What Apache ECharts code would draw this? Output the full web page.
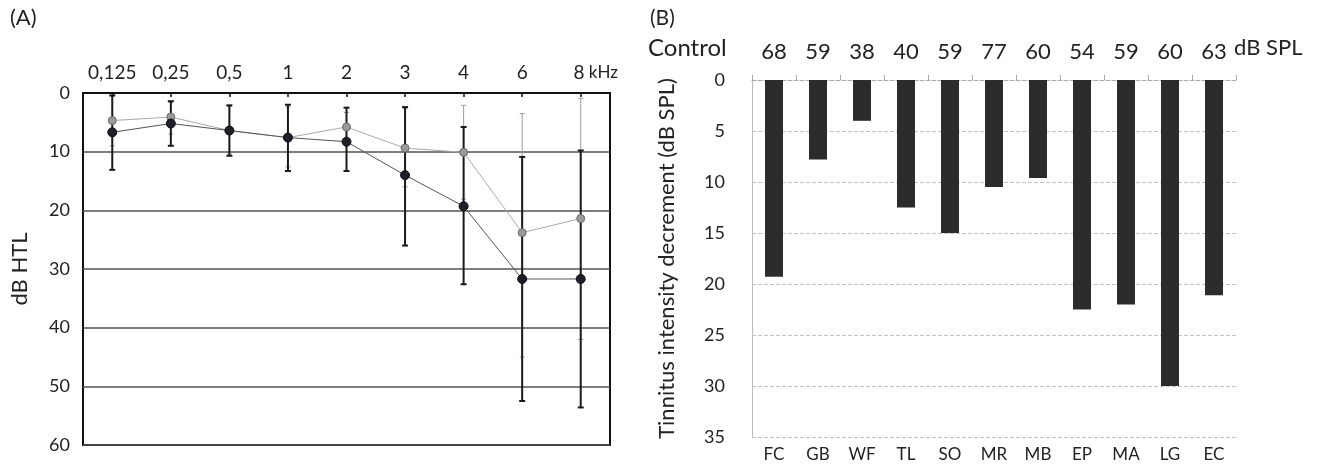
<!DOCTYPE html>
<html>
<head>
<meta charset="utf-8">
<script src="https://cdn.jsdelivr.net/npm/echarts@6/dist/echarts.min.js"></script>
<style>
html,body{margin:0;padding:0;background:#fff;}
#chart{width:1317px;height:466px;}
</style>
</head>
<body>
<div id="chart"></div>
<script>
// ---- Panel A: audiogram ----
var freqLabels = ['0,125','0,25','0,5','1','2','3','4','6','8'];
var meanBlack = [6.7, 5.2, 6.4, 7.6, 8.3, 14.0, 19.3, 31.7, 31.7];
var meanGray  = [4.7, 4.1, 6.4, 7.6, 5.8, 9.4, 10.1, 23.8, 21.4];
var errTopBlack = [0.4, 1.4, 2.1, 2.0, 2.5, 2.4, 5.8, 10.9, 9.8];
var errBotBlack = [13.1, 9.0, 10.7, 13.3, 13.3, 26.0, 32.6, 52.5, 53.6];
var errTopGray  = [0.6, 1.6, 2.3, 2.4, 3.3, 2.7, 2.1, 3.5, 0.9];
var errBotGray  = [9.0, 7.0, 10.4, 12.6, 8.5, 16.0, 18.1, 45.0, 42.0];

// ---- Panel B: tinnitus decrement ----
var subjects = ['FC','GB','WF','TL','SO','MR','MB','EP','MA','LG','EC'];
var controlSPL = [68, 59, 38, 40, 59, 77, 60, 54, 59, 60, 63];
var decrement = [19.3, 7.8, 4.0, 12.5, 15.0, 10.5, 9.6, 22.5, 22.0, 30.0, 21.1];

var FONT = 'Lato, "Open Sans", sans-serif';
var TXT = '#222';

function errData(top, bot) {
  return top.map(function (t, i) { return [i, t, bot[i]]; });
}
function errRender(color, width, cap) {
  return function (params, api) {
    var x = api.value(0);
    var p1 = api.coord([x, api.value(1)]);
    var p2 = api.coord([x, api.value(2)]);
    var st = { stroke: color, lineWidth: width };
    return {
      type: 'group',
      children: [
        { type: 'line', shape: { x1: p1[0], y1: p1[1], x2: p2[0], y2: p2[1] }, style: st },
        { type: 'line', shape: { x1: p1[0] - cap, y1: p1[1], x2: p1[0] + cap, y2: p1[1] }, style: st },
        { type: 'line', shape: { x1: p2[0] - cap, y1: p2[1], x2: p2[0] + cap, y2: p2[1] }, style: st }
      ]
    };
  };
}

var chart = echarts.init(document.getElementById('chart'), null, { renderer: 'canvas' });
var option = {
  animation: false,
  backgroundColor: '#fff',
  textStyle: { fontFamily: FONT, color: TXT },
  graphic: [
    { type: 'text', left: 10, top: 7, style: { text: '(A)', fontSize: 22, fontFamily: FONT, fill: TXT } },
    { type: 'text', left: 650, top: 8, style: { text: '(B)', fontSize: 21, fontFamily: FONT, fill: TXT } },
    { type: 'text', left: 648, top: 36, style: { text: 'Control', fontSize: 24, fontFamily: FONT, fill: TXT } },
    { type: 'text', left: 1234, top: 37, style: { text: 'dB SPL', fontSize: 22, fontFamily: FONT, fill: TXT } }
  ],
  grid: [
    { left: 83, top: 93, width: 527, height: 352, show: true, borderColor: '#111', borderWidth: 2, backgroundColor: 'transparent' },
    { left: 752, top: 80, width: 484, height: 357 }
  ],
  xAxis: [
    {
      gridIndex: 0, type: 'category', data: freqLabels, position: 'top', boundaryGap: true,
      axisLine: { show: true, lineStyle: { color: '#111', width: 2 } },
      axisTick: { show: true, inside: true, length: 4, alignWithLabel: true, lineStyle: { color: '#111', width: 1.5 } },
      axisLabel: {
        interval: 0, hideOverlap: false,
        margin: 11, fontSize: 19, color: TXT, fontFamily: FONT,
        formatter: function (v, i) { return i === freqLabels.length - 1 ? '{p|}{n|' + v + '}{u| kHz}' : '{n|' + v + '}'; },
        rich: {
          p: { width: 30, fontSize: 19, fontFamily: FONT },
          n: { fontSize: 19, fontFamily: FONT, color: TXT },
          u: { fontSize: 17, fontFamily: FONT, color: TXT }
        }
      }
    },
    {
      gridIndex: 1, type: 'category', data: subjects, position: 'top', boundaryGap: true,
      axisLine: { show: true, lineStyle: { color: '#aaa', width: 1, type: 'dashed' } },
      axisTick: { show: true, length: 5, lineStyle: { color: '#aaa' } },
      axisLabel: {
        interval: 0, hideOverlap: false,
        margin: 17, fontSize: 22, color: TXT, fontFamily: FONT,
        formatter: function (v, i) { return String(controlSPL[i]); }
      }
    },
    {
      gridIndex: 1, type: 'category', data: subjects, position: 'bottom', boundaryGap: true,
      axisLine: { show: false }, axisTick: { show: false },
      axisLabel: { interval: 0, margin: 9, fontSize: 17, color: TXT, fontFamily: FONT }
    }
  ],
  yAxis: [
    {
      gridIndex: 0, type: 'value', min: 0, max: 60, interval: 10, inverse: true,
      axisLine: { show: false }, axisTick: { show: false },
      splitLine: { show: true, lineStyle: { color: '#555', width: 1.5 } },
      axisLabel: { margin: 13, fontSize: 18, color: TXT, fontFamily: FONT },
      name: 'dB HTL', nameLocation: 'middle', nameGap: 52,
      nameTextStyle: { fontSize: 22, color: TXT, fontFamily: FONT }
    },
    {
      gridIndex: 1, type: 'value', min: 0, max: 35, interval: 5, inverse: true,
      axisLine: { show: true, lineStyle: { color: '#bbb', width: 1 } }, axisTick: { show: false },
      splitLine: { show: true, lineStyle: { color: '#c4c4c4', width: 1, type: 'dashed' } },
      axisLabel: { margin: 27, fontSize: 18, color: TXT, fontFamily: FONT },
      name: 'Tinnitus intensity decrement (dB SPL)', nameLocation: 'middle', nameGap: 74,
      nameTextStyle: { fontSize: 22, color: TXT, fontFamily: FONT }
    }
  ],
  series: [
    {
      type: 'custom', xAxisIndex: 0, yAxisIndex: 0, z: 2,
      renderItem: errRender('#9a9a9a', 1, 2.5),
      encode: { x: 0, y: [1, 2] },
      data: errData(errTopGray, errBotGray)
    },
    {
      type: 'custom', xAxisIndex: 0, yAxisIndex: 0, z: 3,
      renderItem: errRender('#1a1a1a', 2, 3),
      encode: { x: 0, y: [1, 2] },
      data: errData(errTopBlack, errBotBlack)
    },
    {
      type: 'line', xAxisIndex: 0, yAxisIndex: 0, z: 4, data: meanGray,
      symbol: 'circle', symbolSize: 8,
      lineStyle: { color: '#aaa', width: 1 },
      itemStyle: { color: '#9a9a9a', borderColor: '#6a6a6a', borderWidth: 1 }
    },
    {
      type: 'line', xAxisIndex: 0, yAxisIndex: 0, z: 5, data: meanBlack,
      symbol: 'circle', symbolSize: 9,
      lineStyle: { color: '#555', width: 1 },
      itemStyle: { color: '#1f1f2a', borderColor: '#111', borderWidth: 1 }
    },
    {
      type: 'bar', xAxisIndex: 1, yAxisIndex: 1, data: decrement, barWidth: 18,
      itemStyle: { color: '#2c2c2e' }
    }
  ]
};
chart.setOption(option);
</script>
</body>
</html>
